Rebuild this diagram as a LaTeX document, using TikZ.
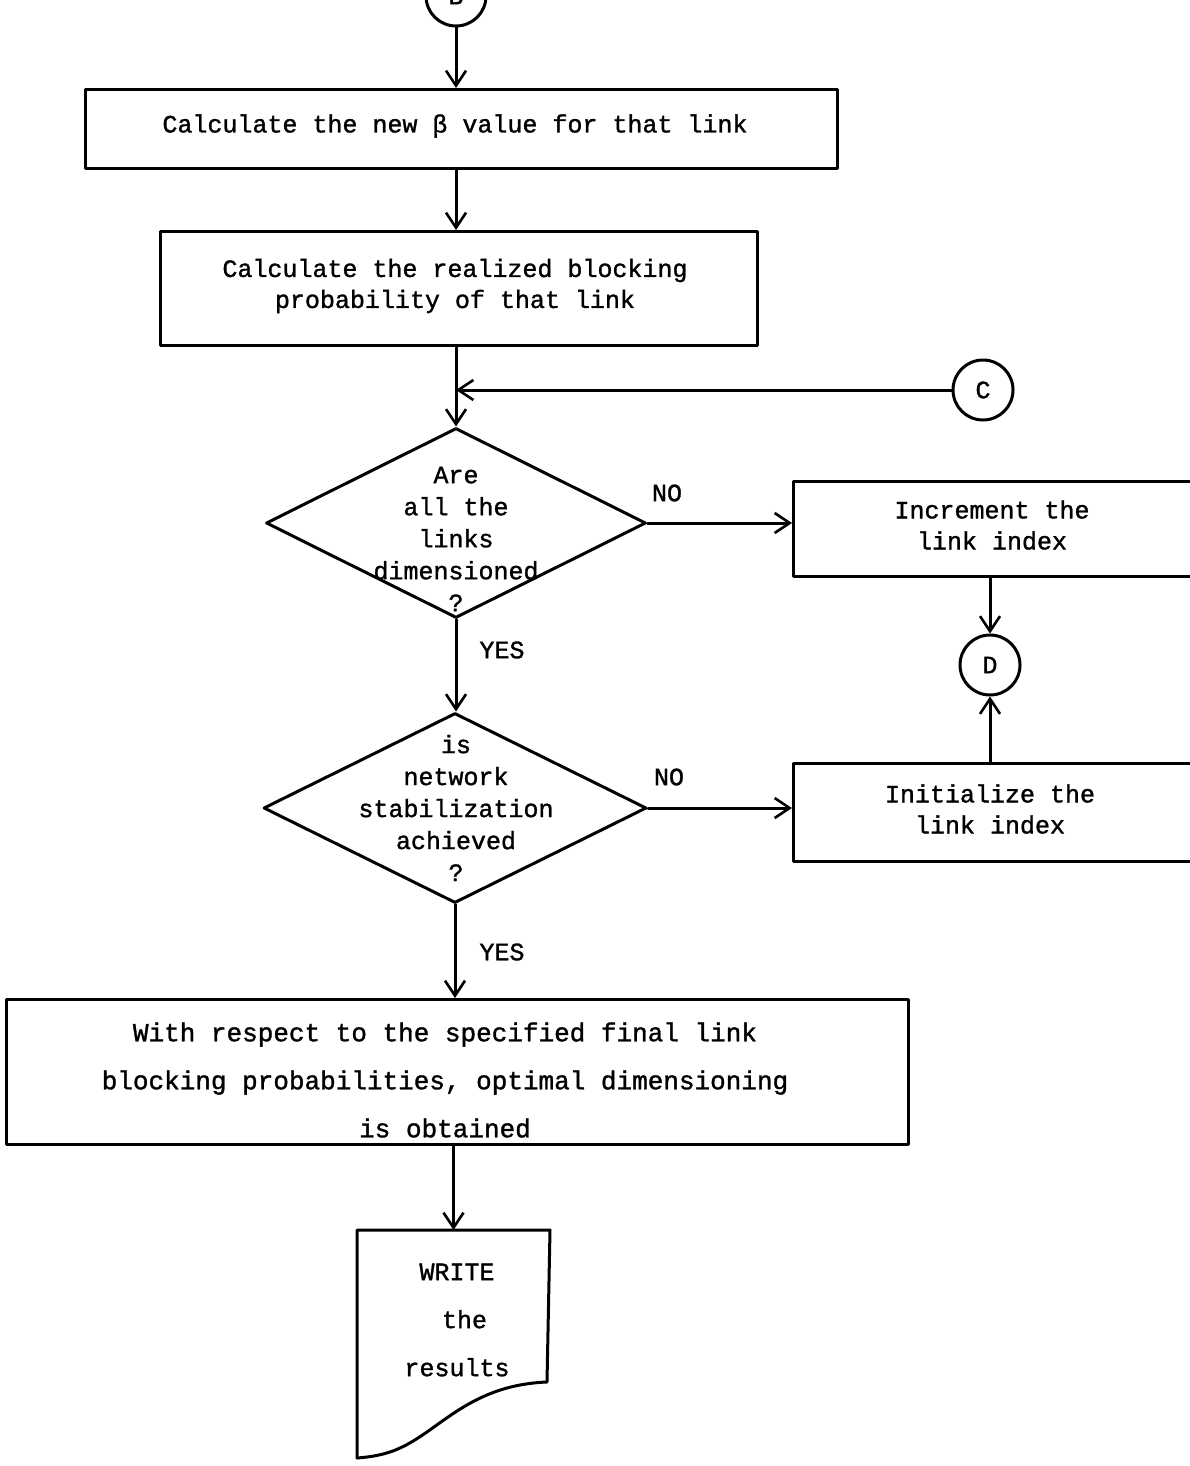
\documentclass[tikz,border=0pt]{standalone}
\usepackage{fontspec}
\newfontfamily\tw[FakeBold=1.3]{Liberation Mono}
\usetikzlibrary{arrows.meta,shapes.geometric}
\tikzset{
  ln/.style={line width=3pt, line cap=round, line join=round},
  arr/.style={ln, -{Straight Barb[length=15pt,width=20pt,line width=2.6pt]}},
  boxn/.style={draw, ln, rectangle, inner sep=0pt, anchor=north west},
  txt/.style={font=\tw\fontsize{25}{31}\selectfont, align=center, inner sep=0pt},
  conn/.style={draw, ln, circle, minimum size=60pt, inner sep=0pt, font=\tw\fontsize{25}{30}\selectfont},
  dia/.style={draw, ln, diamond, inner sep=0pt, minimum width=#1, minimum height=190pt},
  lab/.style={font=\tw\fontsize{25}{30}\selectfont, inner sep=0pt}
}
\begin{document}
\begin{tikzpicture}[x=1pt,y=-1pt]
\useasboundingbox (0,0) rectangle (1190,1466);
% top connector
\node[conn] (B) at (456,-4) {B};
% box 1
\node[boxn, minimum width=752pt, minimum height=79pt] (b1) at (84,88) {};
\node[txt] (t1) at (455,126) {Calculate the new β value for that link};
% box 2
\node[boxn, minimum width=597pt, minimum height=114pt] (b2) at (159,230) {};
\node[txt] (t2) at (455,286) {Calculate the realized blocking\\probability of that link};
% connector C
\node[conn] (C) at (983,390) {C};
\coordinate (j) at (456,390);
% diamond 1
\node[dia=380pt] (d1) at (456,523) {};
\node[txt, font=\tw\fontsize{25}{32}\selectfont] (t3) at (456,539) {Are\\all the\\links\\dimensioned\\?};
% box 3
\node[boxn, minimum width=398pt, minimum height=95pt] (b3) at (792,480) {};
\node[txt] (t4) at (992,525) {Increment the\\link index};
% connector D
\node[conn] (D) at (990,665) {D};
% diamond 2
\node[dia=383pt] (d2) at (455,808) {};
\node[txt, font=\tw\fontsize{25}{32}\selectfont] (t5) at (456,808) {is\\network\\stabilization\\achieved\\?};
% box 4
\node[boxn, minimum width=398pt, minimum height=98pt] (b4) at (792,762) {};
\node[txt] (t6) at (990,809) {Initialize the\\link index};
% box 5
\node[boxn, minimum width=902pt, minimum height=145pt] (b5) at (5,998) {};
\node[txt, font=\tw\fontsize{26}{48}\selectfont] (t7) at (445,1080) {With respect to the specified final link\\blocking probabilities, optimal dimensioning\\is obtained};
% document
\node[boxn, draw=none, minimum width=190pt, minimum height=228pt] (doc) at (357,1230) {};
\draw[ln] (doc.north west) -- (doc.north east) -- (547,1382)
  .. controls (470,1385) and (440,1430) .. (400,1448)
  .. controls (385,1455) and (370,1457) .. (357,1458) -- cycle;
\node[txt, font=\tw\fontsize{25}{48}\selectfont] (t8) at (457,1320) {WRITE\\\ the\\results};
% labels
\node[lab] (no1) at (667,493) {NO};
\node[lab] (yes1) at (502,650) {YES};
\node[lab] (no2) at (669,777) {NO};
\node[lab] (yes2) at (502,952) {YES};
% connectors
\draw[arr] (B.south) -- (b1.north -| B.south);
\draw[arr] (b1.south -| d1.north) -- (b2.north -| d1.north);
\draw[arr] (C.west) -- (j);
\draw[arr] (b2.south -| d1.north) -- (d1.north);
\draw[arr] (d1.east) -- (d1.east -| b3.west);
\draw[arr] (b3.south -| D.north) -- (D.north);
\draw[arr] (d1.south) -- (d2.north -| d1.south);
\draw[arr] (d2.east) -- (d2.east -| b4.west);
\draw[arr] (b4.north -| D.south) -- (D.south);
\draw[arr] (d2.south) -- (d2.south |- b5.north);
\draw[arr] (b5.south -| doc.north) -- (doc.north);
\end{tikzpicture}
\end{document}
